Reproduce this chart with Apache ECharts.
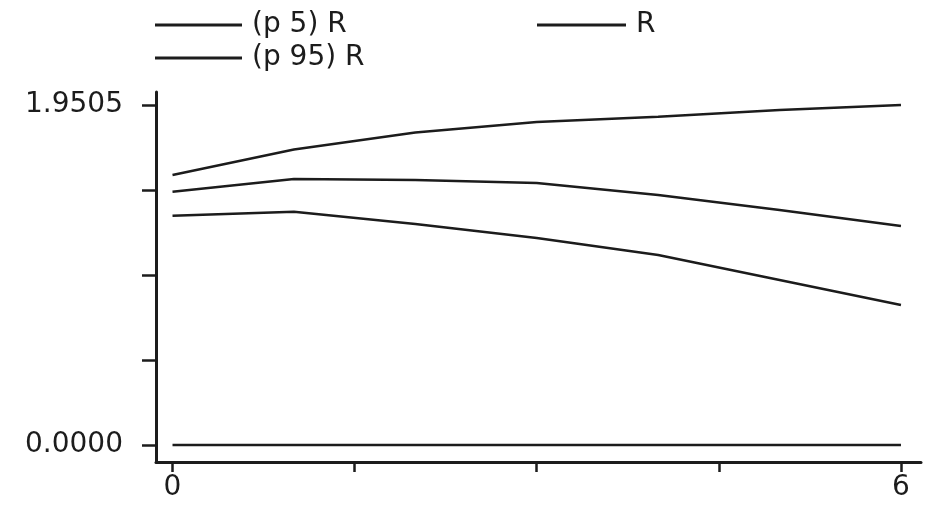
<!DOCTYPE html>
<html>
<head>
<meta charset="utf-8">
<script src="https://cdn.jsdelivr.net/npm/echarts@6/dist/echarts.min.js"></script>
<style>html,body{margin:0;padding:0;background:#fff}#c{width:928px;height:510px}</style>
</head>
<body>
<div id="c"></div>
<script>
const xValues = [0, 1, 2, 3, 4, 5, 6];
const p5Values = [1.315, 1.338, 1.268, 1.188, 1.090, 0.947, 0.803];
const rValues = [1.453, 1.526, 1.520, 1.503, 1.434, 1.348, 1.256];
const p95Values = [1.549, 1.695, 1.793, 1.853, 1.883, 1.922, 1.9505];
const zeroValues = [0, 0, 0, 0, 0, 0, 0];
const yTicks = [0, 0.487625, 0.97525, 1.462875, 1.9505];
const yLabels = [0, 1.9505];
const xTicks = [0, 1.5, 3, 4.5, 6];
const xLabels = [0, 6];

const INK = '#1c1c1c';
const FONT = 'DejaVu Sans';
const pairs = v => xValues.map((x, i) => [x, v[i]]);

function lineSeries(name, vals) {
  return {
    name: name, type: 'line', data: pairs(vals), symbol: 'none',
    lineStyle: { color: INK, width: 2.5 }, itemStyle: { color: INK },
    silent: true, animation: false
  };
}
function legendAt(name, left, top, w) {
  return {
    data: [name], left: left, top: top, padding: 0, orient: 'horizontal',
    icon: 'rect', itemWidth: w, itemHeight: 3,
    itemStyle: { color: INK },
    textStyle: { fontFamily: FONT, fontSize: 28, color: INK, padding: [0, 0, 0, 5] },
    selectedMode: false
  };
}

const chart = echarts.init(document.getElementById('c'), null, { renderer: 'canvas' });
chart.setOption({
  backgroundColor: '#fff',
  animation: false,
  legend: [
    legendAt('(p 5) R', 155, 11, 87),
    legendAt('R', 537, 11, 89),
    legendAt('(p 95) R', 155, 44, 87)
  ],
  grid: { left: 156, right: 7, top: 92, bottom: 48 },
  xAxis: {
    type: 'value', min: -0.136, max: 6.165,
    splitLine: { show: false },
    axisLine: { onZero: false, lineStyle: { color: INK, width: 3 } },
    axisTick: { customValues: xTicks, length: 10, lineStyle: { color: INK, width: 2.5 } },
    axisLabel: { customValues: xLabels, fontFamily: FONT, fontSize: 28, color: INK, margin: 12,
      formatter: v => String(v) }
  },
  yAxis: {
    type: 'value', min: -0.0975, max: 2.025,
    splitLine: { show: false },
    axisLine: { show: true, onZero: false, lineStyle: { color: INK, width: 3 } },
    axisTick: { show: true, customValues: yTicks, length: 14, lineStyle: { color: INK, width: 2.5 } },
    axisLabel: { customValues: yLabels, fontFamily: FONT, fontSize: 28, color: INK, margin: 33,
      formatter: v => Number(v).toFixed(4) }
  },
  series: [
    lineSeries('(p 5) R', p5Values),
    lineSeries('R', rValues),
    lineSeries('(p 95) R', p95Values),
    Object.assign(lineSeries('zero', zeroValues), { legendHoverLink: false })
  ]
});
</script>
</body>
</html>
